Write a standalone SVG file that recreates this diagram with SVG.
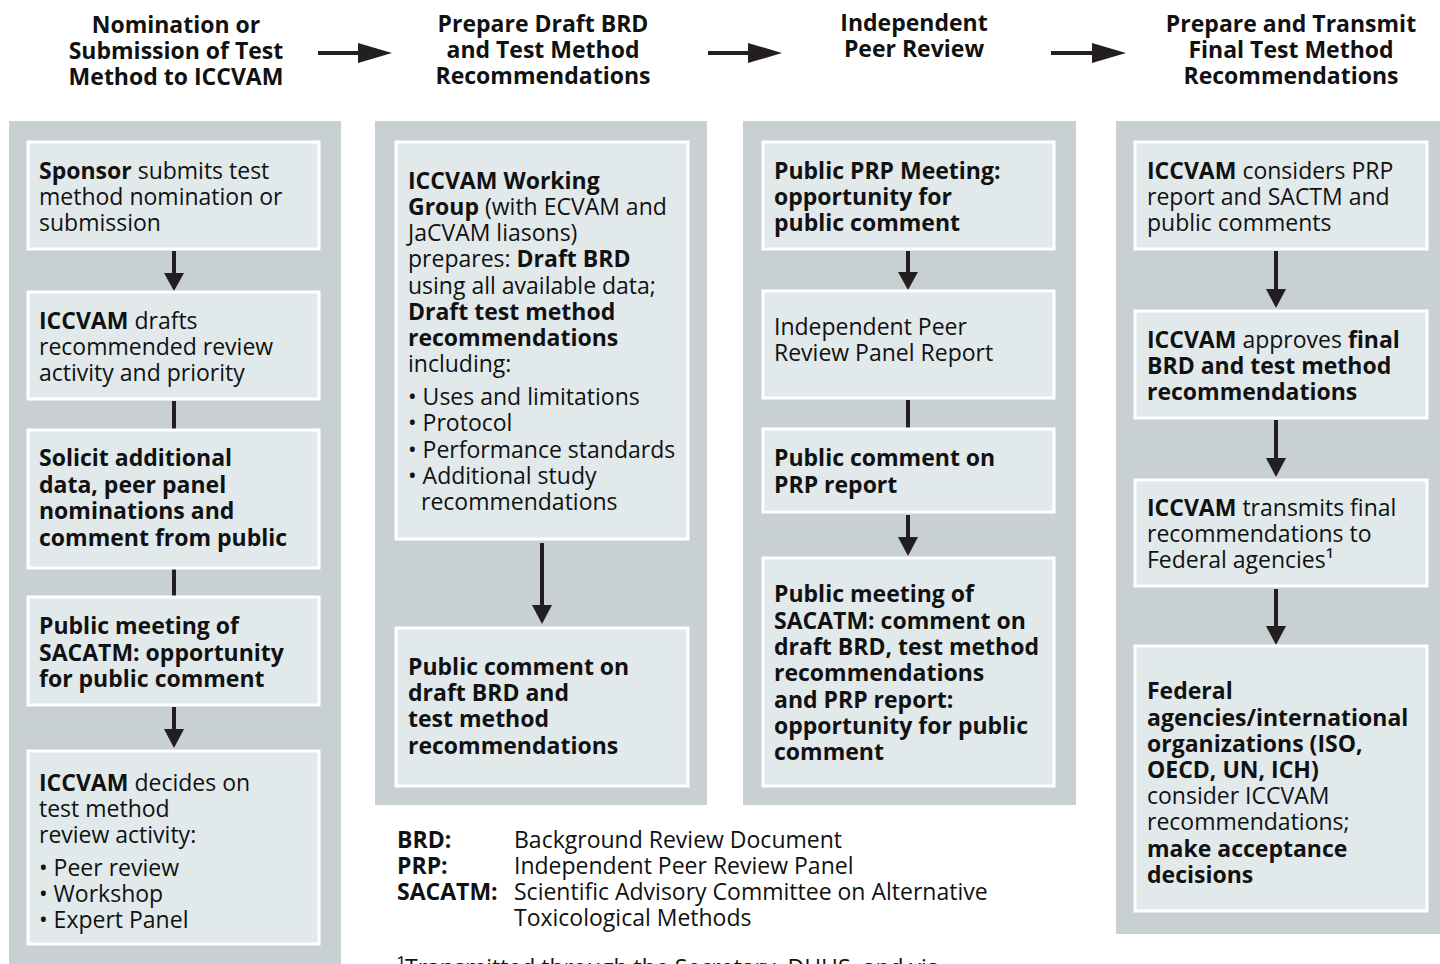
<svg xmlns="http://www.w3.org/2000/svg" width="1440" height="964" viewBox="0 0 1440 964">
<style>
text{font-family:"Open Sans","Noto Sans","DejaVu Sans",sans-serif;fill:#111;font-size:23px;}
.h{font-size:23px;font-weight:700;text-anchor:middle;}
.b{font-weight:700;}
.col{fill:#c9d0d3;}
.box{fill:#e1e9eb;stroke:#ffffff;stroke-width:3;}
.ln{stroke:#231f20;stroke-width:4;fill:none;}
.ah{fill:#231f20;}
</style>
<rect width="1440" height="964" fill="#ffffff"/>

<g id="headers">
<text class="h" x="176" y="33">Nomination or</text>
<text class="h" x="176" y="59">Submission of Test</text>
<text class="h" x="176" y="85">Method to ICCVAM</text>
<text class="h" x="543" y="32">Prepare Draft BRD</text>
<text class="h" x="543" y="58">and Test Method</text>
<text class="h" x="543" y="84">Recommendations</text>
<text class="h" x="914" y="31">Independent</text>
<text class="h" x="914" y="57">Peer Review</text>
<text class="h" x="1291" y="32">Prepare and Transmit</text>
<text class="h" x="1291" y="58">Final Test Method</text>
<text class="h" x="1291" y="84">Recommendations</text>
</g>

<g id="columns">
<rect class="col" x="9" y="121" width="332" height="850"/>
<rect class="col" x="375" y="121" width="332" height="684"/>
<rect class="col" x="743" y="121" width="333" height="684"/>
<rect class="col" x="1116" y="121" width="330" height="813"/>
</g>

<g id="connectors">
<path class="ln" d="M318,53 H360"/><path class="ah" d="M358,43 L392,53 L358,63 Z"/>
<path class="ln" d="M708,53 H750"/><path class="ah" d="M748,43 L782,53 L748,63 Z"/>
<path class="ln" d="M1051,53 H1094"/><path class="ah" d="M1092,43 L1126,53 L1092,63 Z"/>

<path class="ln" d="M174,251 V275"/><path class="ah" d="M164,273 L184,273 L174,291 Z"/>
<path class="ln" d="M174,401 V429"/>
<path class="ln" d="M174,569 V597"/>
<path class="ln" d="M174,707 V731"/><path class="ah" d="M164,729 L184,729 L174,748 Z"/>

<path class="ln" d="M542,543 V607"/><path class="ah" d="M532,605 L552,605 L542,624 Z"/>

<path class="ln" d="M908,251 V274"/><path class="ah" d="M898,272 L918,272 L908,290 Z"/>
<path class="ln" d="M908,400 V429"/>
<path class="ln" d="M908,515 V539"/><path class="ah" d="M898,537 L918,537 L908,556 Z"/>

<path class="ln" d="M1276,251 V291"/><path class="ah" d="M1266,289 L1286,289 L1276,308 Z"/>
<path class="ln" d="M1276,420 V460"/><path class="ah" d="M1266,458 L1286,458 L1276,477 Z"/>
<path class="ln" d="M1276,589 V628"/><path class="ah" d="M1266,626 L1286,626 L1276,645 Z"/>
</g>

<g id="n-sponsor">
<rect class="box" x="28" y="142" width="291" height="107"/>
<text x="39" y="179"><tspan class="b">Sponsor</tspan> submits test</text>
<text x="39" y="205">method nomination or</text>
<text x="39" y="231">submission</text>
</g>
<g id="n-drafts">
<rect class="box" x="28" y="292" width="291" height="107"/>
<text x="39" y="329"><tspan class="b">ICCVAM</tspan> drafts</text>
<text x="39" y="355">recommended review</text>
<text x="39" y="381">activity and priority</text>
</g>
<g id="n-solicit">
<rect class="box" x="28" y="430" width="291" height="138"/>
<text class="b" x="39" y="466">Solicit additional</text>
<text class="b" x="39" y="493">data, peer panel</text>
<text class="b" x="39" y="519">nominations and</text>
<text class="b" x="39" y="546">comment from public</text>
</g>
<g id="n-sacatm1">
<rect class="box" x="28" y="597" width="291" height="108"/>
<text class="b" x="39" y="634">Public meeting of</text>
<text class="b" x="39" y="661">SACATM: opportunity</text>
<text class="b" x="39" y="687">for public comment</text>
</g>
<g id="n-decides">
<rect class="box" x="28" y="751" width="291" height="193"/>
<text x="39" y="791"><tspan class="b">ICCVAM</tspan> decides on</text>
<text x="39" y="817">test method</text>
<text x="39" y="843">review activity:</text>
<text x="39" y="876">• Peer review</text>
<text x="39" y="902">• Workshop</text>
<text x="39" y="928">• Expert Panel</text>
</g>

<g id="n-working">
<rect class="box" x="396" y="142" width="292" height="397"/>
<text class="b" x="408" y="189">ICCVAM Working</text>
<text x="408" y="215"><tspan class="b">Group</tspan> (with ECVAM and</text>
<text x="408" y="241">JaCVAM liasons)</text>
<text x="408" y="267">prepares: <tspan class="b">Draft BRD</tspan></text>
<text x="408" y="294">using all available data;</text>
<text class="b" x="408" y="320">Draft test method</text>
<text class="b" x="408" y="346">recommendations</text>
<text x="408" y="372">including:</text>
<text x="408" y="405">• Uses and limitations</text>
<text x="408" y="431">• Protocol</text>
<text x="408" y="458">• Performance standards</text>
<text x="408" y="484">• Additional study</text>
<text x="421" y="510">recommendations</text>
</g>
<g id="n-pubdraft">
<rect class="box" x="396" y="628" width="292" height="158"/>
<text class="b" x="408" y="675">Public comment on</text>
<text class="b" x="408" y="701">draft BRD and</text>
<text class="b" x="408" y="727">test method</text>
<text class="b" x="408" y="754">recommendations</text>
</g>

<g id="n-prpmeeting">
<rect class="box" x="763" y="142" width="291" height="107"/>
<text class="b" x="774" y="179">Public PRP Meeting:</text>
<text class="b" x="774" y="205">opportunity for</text>
<text class="b" x="774" y="231">public comment</text>
</g>
<g id="n-prpreport">
<rect class="box" x="763" y="291" width="291" height="107"/>
<text x="774" y="335">Independent Peer</text>
<text x="774" y="361">Review Panel Report</text>
</g>
<g id="n-prpcomment">
<rect class="box" x="763" y="429" width="291" height="83"/>
<text class="b" x="774" y="466">Public comment on</text>
<text class="b" x="774" y="493">PRP report</text>
</g>
<g id="n-sacatm2">
<rect class="box" x="763" y="558" width="291" height="228"/>
<text class="b" x="774" y="602">Public meeting of</text>
<text class="b" x="774" y="629">SACATM: comment on</text>
<text class="b" x="774" y="655">draft BRD, test method</text>
<text class="b" x="774" y="681">recommendations</text>
<text class="b" x="774" y="708">and PRP report:</text>
<text class="b" x="774" y="734">opportunity for public</text>
<text class="b" x="774" y="760">comment</text>
</g>

<g id="n-considers">
<rect class="box" x="1135" y="142" width="292" height="107"/>
<text x="1147" y="179"><tspan class="b">ICCVAM</tspan> considers PRP</text>
<text x="1147" y="205">report and SACTM and</text>
<text x="1147" y="231">public comments</text>
</g>
<g id="n-approves">
<rect class="box" x="1135" y="311" width="292" height="107"/>
<text x="1147" y="348"><tspan class="b">ICCVAM</tspan> approves <tspan class="b">final</tspan></text>
<text class="b" x="1147" y="374">BRD and test method</text>
<text class="b" x="1147" y="400">recommendations</text>
</g>
<g id="n-transmits">
<rect class="box" x="1135" y="480" width="292" height="106"/>
<text x="1147" y="516"><tspan class="b">ICCVAM</tspan> transmits final</text>
<text x="1147" y="542">recommendations to</text>
<text x="1147" y="568">Federal agencies¹</text>
</g>
<g id="n-federal">
<rect class="box" x="1135" y="646" width="292" height="265"/>
<text class="b" x="1147" y="699">Federal</text>
<text class="b" x="1147" y="726">agencies/international</text>
<text class="b" x="1147" y="752">organizations (ISO,</text>
<text class="b" x="1147" y="778">OECD, UN, ICH)</text>
<text x="1147" y="804">consider ICCVAM</text>
<text x="1147" y="830">recommendations;</text>
<text class="b" x="1147" y="857">make acceptance</text>
<text class="b" x="1147" y="883">decisions</text>
</g>

<g id="legend">
<text class="b" x="397" y="848">BRD:</text>
<text class="b" x="397" y="874">PRP:</text>
<text class="b" x="397" y="900">SACATM:</text>
<text x="514" y="848">Background Review Document</text>
<text x="514" y="874">Independent Peer Review Panel</text>
<text x="514" y="900">Scientific Advisory Committee on Alternative</text>
<text x="514" y="926">Toxicological Methods</text>
<text x="397" y="976">¹Transmitted through the Secretary, DHHS, and via</text>
</g>
</svg>
